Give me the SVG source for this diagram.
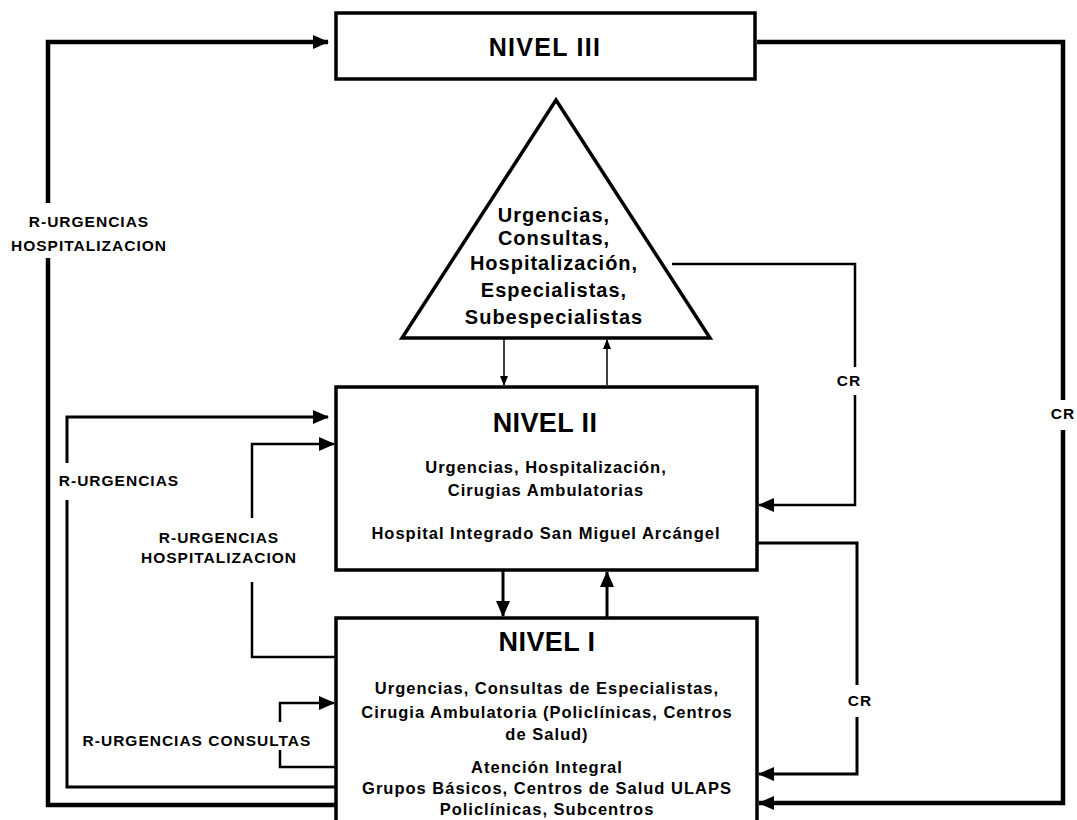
<svg xmlns="http://www.w3.org/2000/svg" width="1077" height="820" viewBox="0 0 1077 820">
<style>
text{font-family:"Liberation Sans",Arial,sans-serif;font-weight:bold;fill:#000;text-anchor:middle}
.box{fill:#fff;stroke:#000;stroke-width:3.5}
.t{font-size:27px;letter-spacing:0.4px}
.tri{font-size:20px;letter-spacing:1px}
.b{font-size:16.5px;letter-spacing:1px}
.lb{font-size:15.5px;letter-spacing:1px}
.c{fill:none;stroke:#000;stroke-linejoin:miter}
.w5{stroke-width:4.5}
.w3{stroke-width:3}
.w2{stroke-width:2.5}
.w1{stroke-width:1.5}
</style>
<defs>
<marker id="ah" markerUnits="userSpaceOnUse" markerWidth="16" markerHeight="14" refX="15" refY="7" orient="auto"><path d="M0,0 L16,7 L0,14 z" fill="#000"/></marker>
<marker id="as" markerUnits="userSpaceOnUse" markerWidth="10" markerHeight="8" refX="9" refY="4" orient="auto"><path d="M0,0 L10,4 L0,8 z" fill="#000"/></marker>
</defs>
<rect width="1077" height="820" fill="#fff"/>
<g id="connectors">
<polyline class="c w5" points="336,805 48,805 48,258"/>
<polyline class="c w5" points="48,203 48,42 328,42" marker-end="url(#ah)"/>
<polyline class="c w5" points="757,42 1063,42 1063,400"/>
<polyline class="c w5" points="1063,430 1063,803 759,803" marker-end="url(#ah)"/>
<polyline class="c w3" points="336,787 67,787 67,500"/>
<polyline class="c w3" points="67,463 67,417 328,417" marker-end="url(#ah)"/>
<polyline class="c w2" points="336,657 252,657 252,582"/>
<polyline class="c w2" points="252,518 252,444 334,444" marker-end="url(#ah)"/>
<polyline class="c w2" points="336,767 280,767 280,750"/>
<polyline class="c w2" points="280,722 280,703 334,703" marker-end="url(#ah)"/>
<polyline class="c w2" points="672,264 855,264 855,367"/>
<polyline class="c w2" points="855,395 855,505 759,505" marker-end="url(#ah)"/>
<polyline class="c w3" points="757,543 857,543 857,685"/>
<polyline class="c w3" points="857,717 857,774 759,774" marker-end="url(#ah)"/>
<line class="c w1" x1="504" y1="338" x2="504" y2="385" marker-end="url(#as)"/>
<line class="c w1" x1="607" y1="385" x2="607" y2="340" marker-end="url(#as)"/>
<line class="c w3" x1="503" y1="570" x2="503" y2="616" marker-end="url(#ah)"/>
<line class="c w3" x1="607" y1="618" x2="607" y2="572" marker-end="url(#ah)"/>
<text class="lb" x="89" y="227">R-URGENCIAS</text>
<text class="lb" x="89" y="251">HOSPITALIZACION</text>
<text class="lb" x="119" y="486">R-URGENCIAS</text>
<text class="lb" x="219" y="543">R-URGENCIAS</text>
<text class="lb" x="219" y="563">HOSPITALIZACION</text>
<text class="lb" x="197" y="746">R-URGENCIAS CONSULTAS</text>
<text class="lb" x="849" y="386">CR</text>
<text class="lb" x="860" y="706">CR</text>
<text class="lb" x="1063" y="419">CR</text>
</g>
<g id="nivel3">
<rect class="box" x="336" y="13" width="419" height="66"/>
<text class="t" style="font-size:25px;letter-spacing:1.3px" x="545" y="56">NIVEL III</text>
</g>
<g id="triangle">
<polygon points="556,100 710,338 402,338" fill="#fff" stroke="#000" stroke-width="3.5" stroke-linejoin="miter"/>
<text class="tri" x="554" y="222">Urgencias,</text>
<text class="tri" x="554" y="245">Consultas,</text>
<text class="tri" x="554" y="270">Hospitalización,</text>
<text class="tri" x="554" y="297">Especialistas,</text>
<text class="tri" x="554" y="324">Subespecialistas</text>
</g>
<g id="nivel2">
<rect class="box" x="336" y="387" width="421" height="183"/>
<text class="t" x="545" y="432">NIVEL II</text>
<text class="b" x="546" y="473">Urgencias, Hospitalización,</text>
<text class="b" x="546" y="496">Cirugias Ambulatorias</text>
<text class="b" x="546" y="539">Hospital Integrado San Miguel Arcángel</text>
</g>
<g id="nivel1">
<rect class="box" x="336" y="618" width="421" height="215"/>
<text class="t" x="547" y="651">NIVEL I</text>
<text class="b" x="547" y="694">Urgencias, Consultas de Especialistas,</text>
<text class="b" x="547" y="718">Cirugia Ambulatoria (Policlínicas, Centros</text>
<text class="b" x="547" y="740">de Salud)</text>
<text class="b" x="547" y="773">Atención Integral</text>
<text class="b" x="547" y="794">Grupos Básicos, Centros de Salud ULAPS</text>
<text class="b" x="547" y="815">Policlínicas, Subcentros</text>
</g>
</svg>
